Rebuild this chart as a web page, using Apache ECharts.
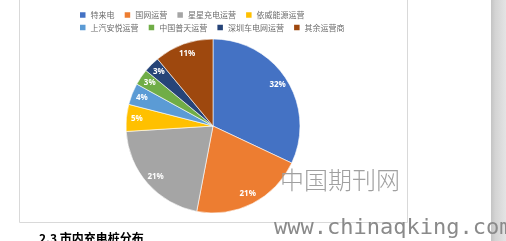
<!DOCTYPE html>
<html><head><meta charset="utf-8">
<script src="https://cdn.jsdelivr.net/npm/echarts@6/dist/echarts.min.js"></script>
<style>html,body{margin:0;padding:0;background:#fff}#c{width:506px;height:241px}</style>
</head><body><div id="c"></div>
<script>
var categories = ['特来电','国网运营','星星充电运营','依威能源运营','上汽安悦运营','中国普天运营','深圳车电网运营','其余运营商'];
var shares = [32, 21, 21, 5, 4, 3, 3, 11];
var colors = ['#4472C4','#ED7D31','#A5A5A5','#FFC000','#5B9BD5','#70AD47','#264478','#9E480E'];

var data = categories.map(function(n,i){return {name:n, value:shares[i]};});
var labelData = categories.map(function(n,i){return {name:'lbl_'+i, value:shares[i]};});
var chart = echarts.init(document.getElementById('c'));
var legendBase = {
  orient:'horizontal', left:75, itemWidth:5.5, itemHeight:5.5, itemGap:10.2, icon:'rect',
  itemStyle:{borderWidth:0},
  textStyle:{fontSize:8, color:'#6b6b6b', width:50, fontFamily:'Noto Sans CJK SC'},
  selectedMode:false
};
chart.setOption({
  animation:false,
  color: colors,
  legend:[
    Object.assign({}, legendBase, {top:6, data:categories.slice(0,4)}),
    Object.assign({}, legendBase, {top:18.5, data:categories.slice(4)})
  ],
  graphic:[
    {type:'rect', shape:{x:19.5, y:-5, width:388, height:227.5}, style:{fill:'none', stroke:'#d9d9d9', lineWidth:1}, z:-10},
    {type:'rect', shape:{x:491, y:0, width:15, height:241}, style:{fill:new echarts.graphic.LinearGradient(0,0,1,0,[{offset:0,color:'#c4c4c4'},{offset:0.3,color:'#d4d4d4'},{offset:1,color:'#e4e4e4'}])}, z:-10},
    {type:'text', x:280, y:168, style:{text:'中国期刊网', font:'300 24px "Noto Sans CJK SC"', fill:'#a0a0a0'}, z:100},
    {type:'text', x:274, y:217, style:{text:'www.chinaqking.com', font:'22px "DejaVu Sans Mono"', fill:'#8a8a8a'}, z:100},
    {type:'text', x:39, y:232, style:{text:'2.3 市内充电桩分布', font:'bold 12px "Noto Sans CJK SC"', fill:'#000'}, z:100}
  ],
  series:[
    {type:'pie', center:[213,126], radius:[0,87], startAngle:90, clockwise:true,
     data:data, label:{show:false}, labelLine:{show:false},
     itemStyle:{borderColor:'#fff', borderWidth:0.6}, emphasis:{disabled:true}},
    {type:'pie', center:[213,126], radius:[60,87], startAngle:90, clockwise:true,
     data:labelData, silent:true, legendHoverLink:false,
     itemStyle:{color:'rgba(0,0,0,0)', borderWidth:0},
     label:{show:true, position:'inside', formatter:'{c}%', color:'#fff', fontSize:8, fontWeight:'bold', fontFamily:'Noto Sans'},
     labelLine:{show:false}, emphasis:{disabled:true}}
  ]
});
</script></body></html>
